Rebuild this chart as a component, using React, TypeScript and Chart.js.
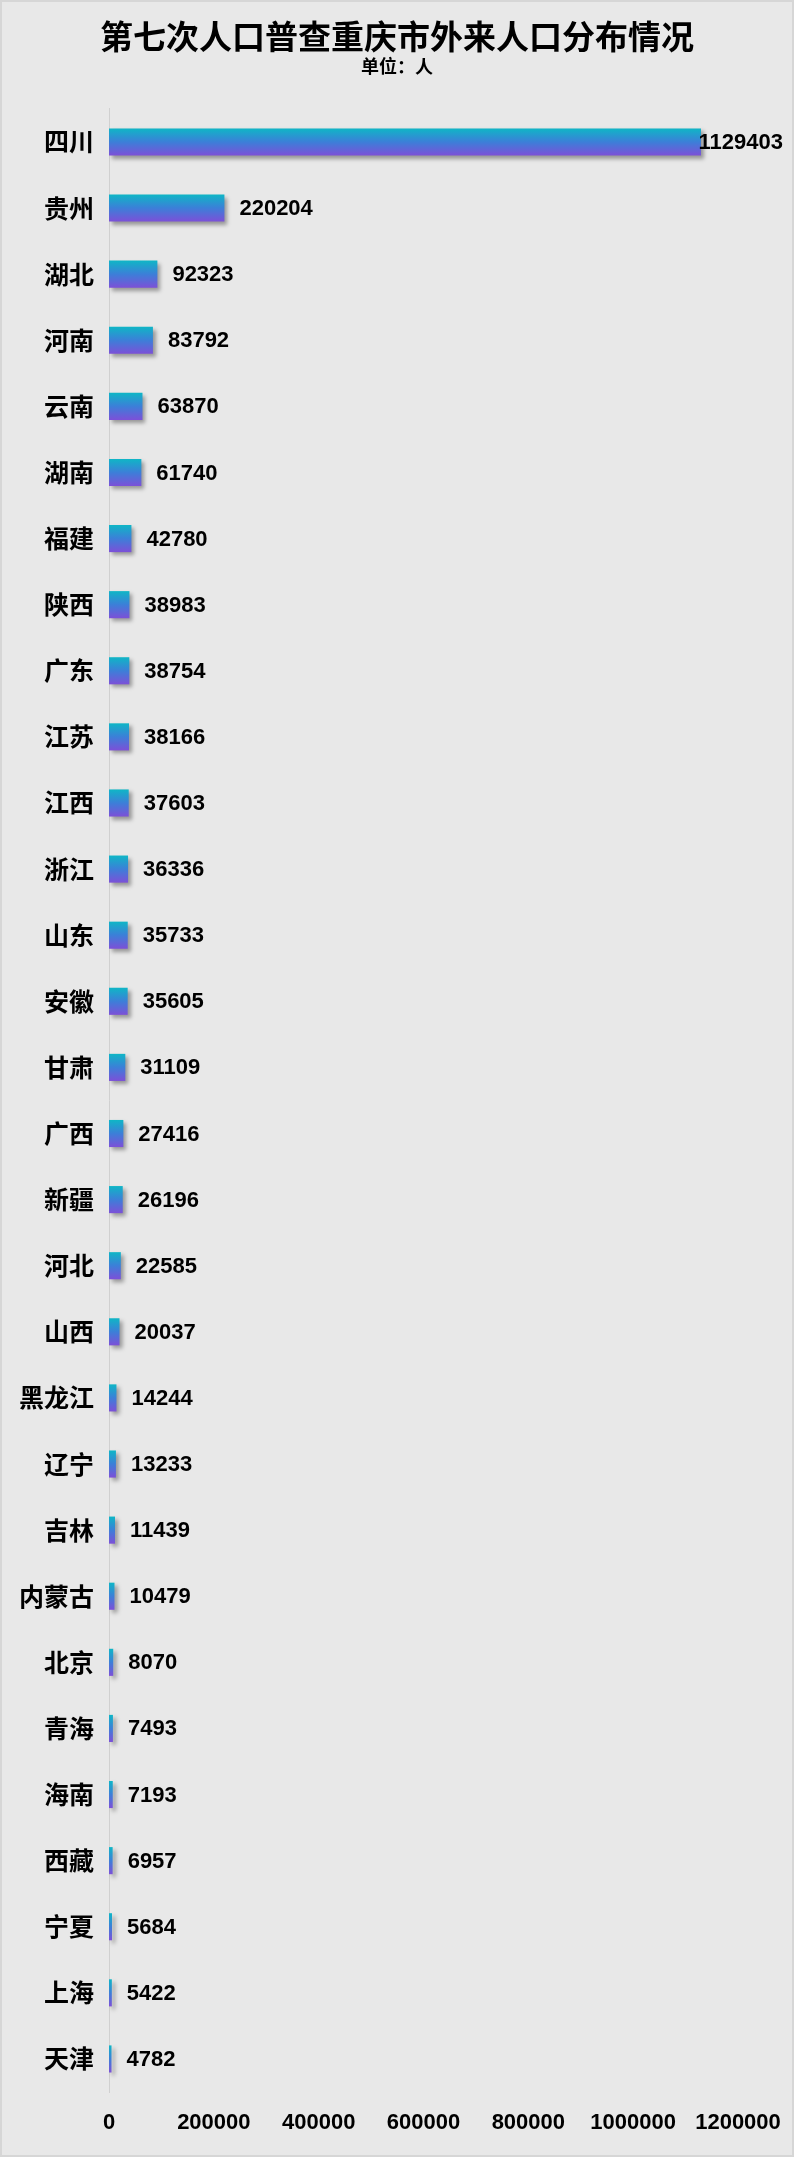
import { useEffect, useRef } from "react";
import { Chart, registerables } from "chart.js";
import type { Plugin, ScriptableContext } from "chart.js";

Chart.register(...registerables);

const PROVINCES = [
  "四川", "贵州", "湖北", "河南", "云南", "湖南", "福建", "陕西", "广东", "江苏",
  "江西", "浙江", "山东", "安徽", "甘肃", "广西", "新疆", "河北", "山西", "黑龙江",
  "辽宁", "吉林", "内蒙古", "北京", "青海", "海南", "西藏", "宁夏", "上海", "天津",
];
const MIGRANTS = [
  1129403, 220204, 92323, 83792, 63870, 61740, 42780, 38983, 38754, 38166,
  37603, 36336, 35733, 35605, 31109, 27416, 26196, 22585, 20037, 14244,
  13233, 11439, 10479, 8070, 7493, 7193, 6957, 5684, 5422, 4782,
];
const X_MAX = 1200000;
const X_STEP = 200000;

const CJK = '"Noto Sans CJK SC", "Noto Sans", sans-serif';
const NUM = '"Liberation Sans", Arial, sans-serif';
const BAR_PCT = 0.41;

// grey card with a thin border behind everything
const backdrop: Plugin<"bar"> = {
  id: "backdrop",
  beforeDraw(chart) {
    const { ctx, width, height } = chart;
    ctx.save();
    ctx.fillStyle = "#e8e8e8";
    ctx.fillRect(0, 0, width, height);
    ctx.strokeStyle = "#d6d6d6";
    ctx.lineWidth = 2;
    ctx.strokeRect(1, 1, width - 2, height - 2);
    ctx.restore();
  },
};

// soft drop shadow under the bars
const barShadow: Plugin<"bar"> = {
  id: "barShadow",
  beforeDatasetDraw(chart) {
    const ctx = chart.ctx;
    ctx.save();
    ctx.shadowColor = "rgba(0,0,0,0.35)";
    ctx.shadowOffsetX = 3;
    ctx.shadowOffsetY = 3;
    ctx.shadowBlur = 4;
  },
  afterDatasetDraw(chart) {
    chart.ctx.restore();
  },
};

// value labels right of each bar, kept inside the canvas
const valueLabels: Plugin<"bar"> = {
  id: "valueLabels",
  afterDatasetsDraw(chart) {
    const { ctx, width } = chart;
    const meta = chart.getDatasetMeta(0);
    ctx.save();
    ctx.font = `bold 22px ${NUM}`;
    ctx.fillStyle = "#000";
    ctx.textBaseline = "middle";
    ctx.textAlign = "left";
    meta.data.forEach((bar, i) => {
      const text = String(MIGRANTS[i]);
      const w = ctx.measureText(text).width;
      const x = Math.min(bar.x + 15, width - 11 - w);
      ctx.fillText(text, x, bar.y + 1);
    });
    ctx.restore();
  },
};

function barGradient(c: ScriptableContext<"bar">) {
  const chart = c.chart;
  const y = chart.scales.y;
  if (!y) return "#3c7fd8";
  const yc = y.getPixelForValue(c.dataIndex);
  const half = (y.height / PROVINCES.length) * BAR_PCT / 2;
  if (!Number.isFinite(yc) || !Number.isFinite(half) || half <= 0) return "#3c7fd8";
  const g = chart.ctx.createLinearGradient(0, yc - half, 0, yc + half);
  g.addColorStop(0, "#0fb6c6");
  g.addColorStop(0.5, "#3c7fd8");
  g.addColorStop(1, "#7c50d8");
  return g;
}

export default function App() {
  const canvasRef = useRef<HTMLCanvasElement>(null);

  useEffect(() => {
    document.body.style.margin = "0";
    if (!canvasRef.current) return;
    const chart = new Chart(canvasRef.current, {
      type: "bar",
      data: {
        labels: PROVINCES,
        datasets: [
          {
            data: MIGRANTS,
            backgroundColor: barGradient,
            borderWidth: 0,
            barPercentage: BAR_PCT,
            categoryPercentage: 1,
          },
        ],
      },
      plugins: [backdrop, barShadow, valueLabels],
      options: {
        indexAxis: "y",
        animation: false,
        responsive: true,
        maintainAspectRatio: false,
        layout: { padding: 0 },
        plugins: {
          legend: { display: false },
          tooltip: { enabled: false },
          title: {
            display: true,
            text: "第七次人口普查重庆市外来人口分布情况",
            color: "#000",
            font: { family: CJK, size: 33, weight: "bold", lineHeight: 1.1 },
            padding: { top: 18, bottom: 1 },
          },
          subtitle: {
            display: true,
            text: "单位：人",
            color: "#000",
            font: { family: CJK, size: 18, weight: "bold", lineHeight: 1.2 },
            padding: { top: 0, bottom: 32 },
          },
        },
        scales: {
          x: {
            min: 0,
            max: X_MAX,
            grid: { display: false, drawTicks: false },
            border: { display: false },
            ticks: {
              stepSize: X_STEP,
              padding: 18,
              color: "#000",
              font: { family: NUM, size: 22, weight: "bold" },
              maxRotation: 0,
              callback: (v) => String(v),
            },
            // right margin of the plot comes from the x axis, so the title stays centred
            afterFit: (s) => {
              s.height = 65;
              s.paddingLeft = 0;
              s.paddingRight = 56;
            },
          },
          y: {
            grid: { display: false, drawTicks: false },
            border: { display: true, color: "#d0d0d0", width: 1 },
            ticks: {
              padding: 15,
              color: "#000",
              font: { family: CJK, size: 25, weight: "bold" },
            },
            afterFit: (s) => {
              s.width = 109;
            },
          },
        },
      },
    });
    return () => chart.destroy();
  }, []);

  return (
    <div style={{ width: 794, height: 2157, position: "relative" }}>
      <canvas
        ref={canvasRef}
        role="img"
        aria-label="第七次人口普查重庆市外来人口分布情况 横向条形图"
      />
    </div>
  );
}
